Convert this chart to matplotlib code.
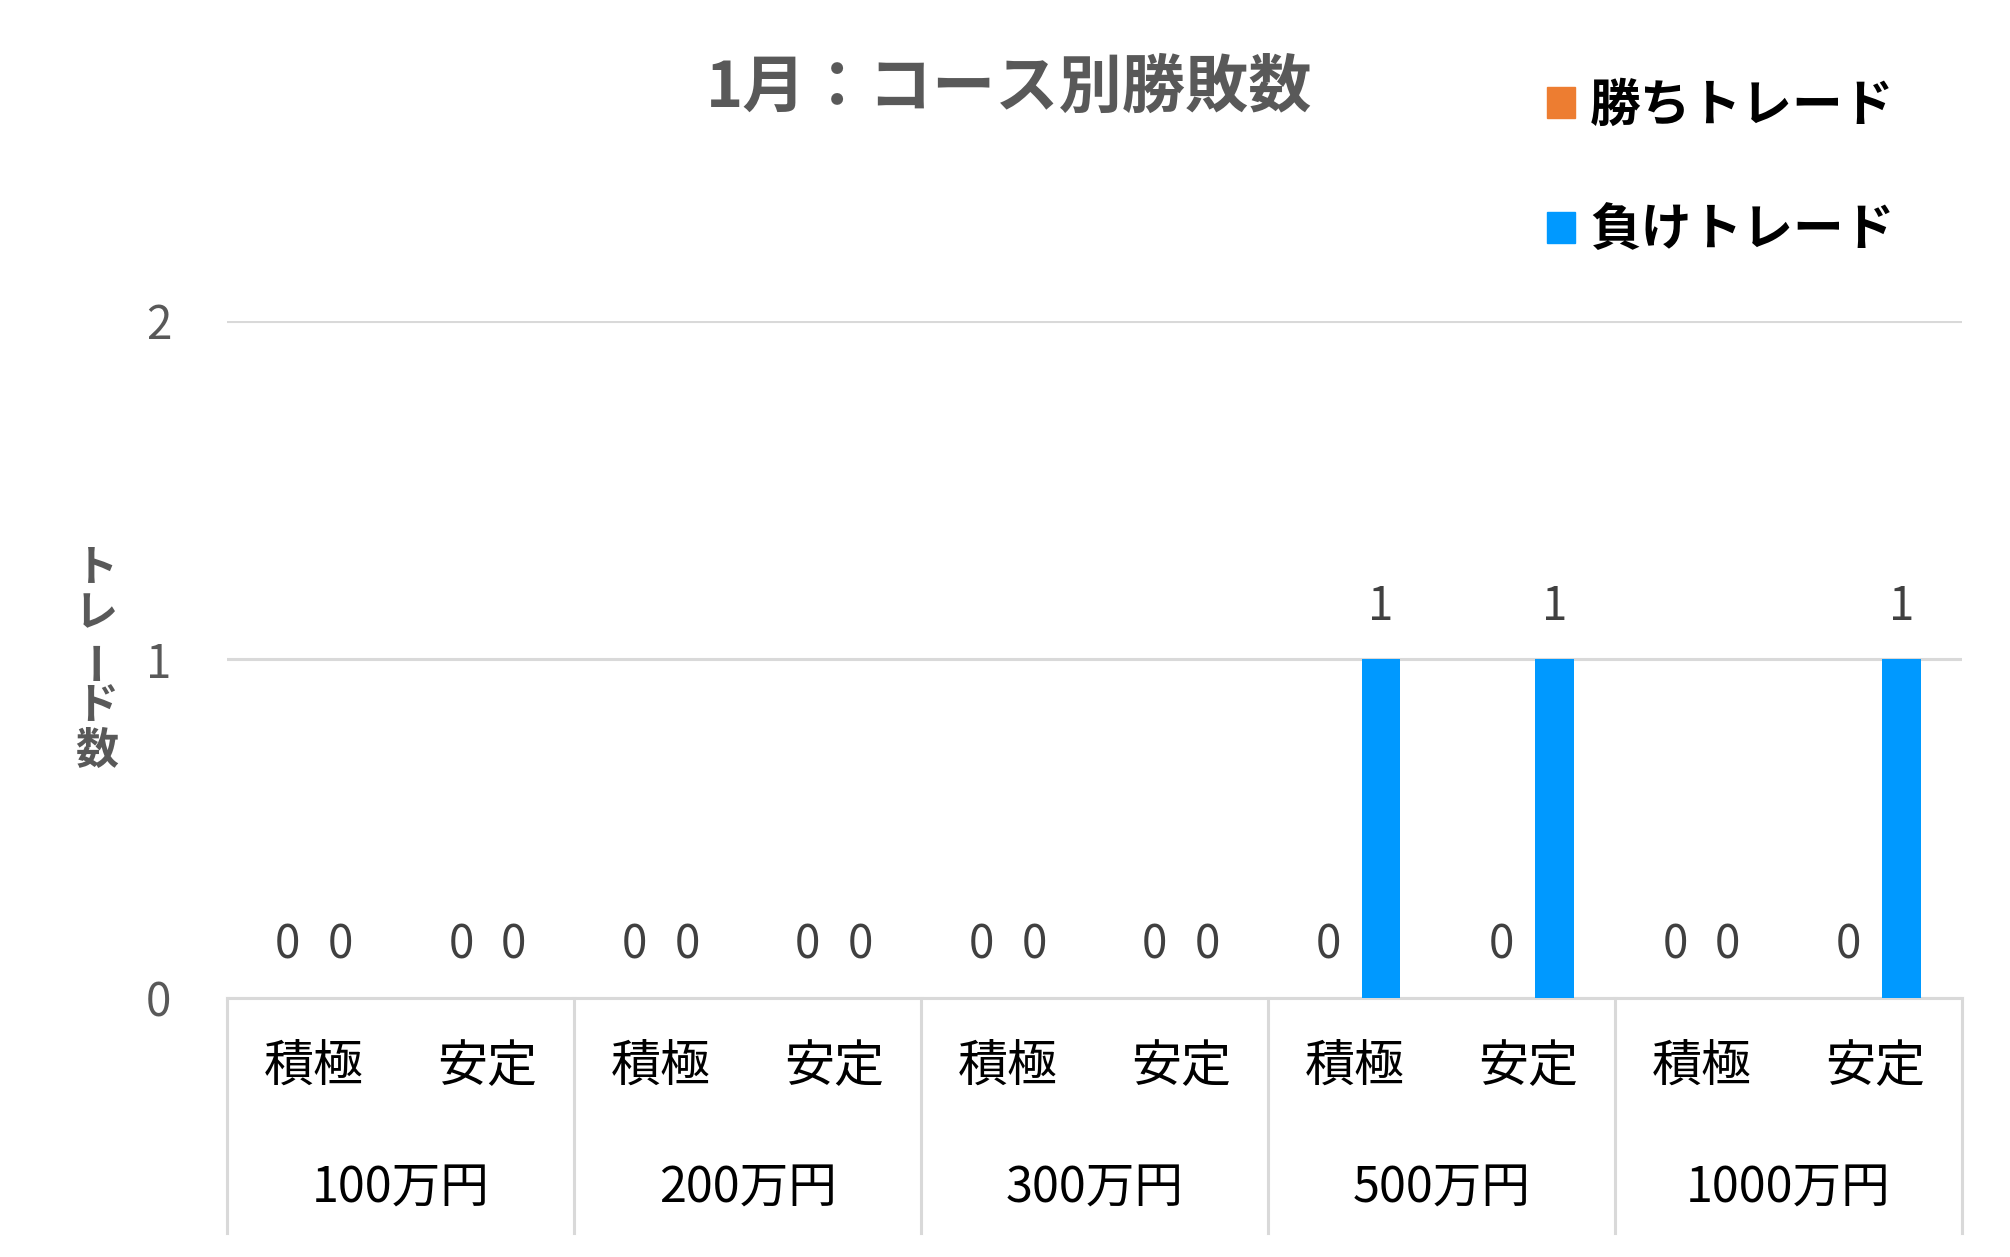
import numpy as np
import matplotlib
matplotlib.use("Agg")
import matplotlib.pyplot as plt
from matplotlib.patches import Patch
from matplotlib.transforms import blended_transform_factory

plt.rcParams['font.family'] = ['Noto Sans CJK JP', 'DejaVu Sans']

groups = ['100万円', '200万円', '300万円', '500万円', '1000万円']
courses = ['積極', '安定']
wins = [0, 0, 0, 0, 0, 0, 0, 0, 0, 0]
losses = [0, 0, 0, 0, 0, 0, 1, 1, 0, 1]

win_color = '#ED7D31'
loss_color = '#0099FF'
grid_color = '#D9D9D9'
gray = '#595959'
label_gray = '#404040'

fig = plt.figure(figsize=(20.1, 12.57), dpi=100)
ax = fig.add_axes([0.113, 0.206, 0.863, 0.539])

x = np.arange(len(wins))
off = 0.152
w = 0.222
ax.bar(x - off, wins, w, color=win_color, zorder=3)
ax.bar(x + off, losses, w, color=loss_color, zorder=3)

for xi, v in zip(x - off, wins):
    ax.annotate(str(v), (xi, v), xytext=(0, 38), textcoords='offset points',
                ha='center', va='center', fontsize=33, color=label_gray)
for xi, v in zip(x + off, losses):
    ax.annotate(str(v), (xi, v), xytext=(0, 38), textcoords='offset points',
                ha='center', va='center', fontsize=33, color=label_gray)

ax.set_xlim(-0.5, len(wins) - 0.5)
ax.set_ylim(0, 2)
ax.set_yticks([0, 1, 2])
ax.set_yticklabels(['0', '1', '2'])
ax.tick_params(axis='y', length=0, pad=40, labelsize=33, labelcolor=gray)
ax.set_xticks([])
for s in ['top', 'right', 'left']:
    ax.spines[s].set_visible(False)
ax.spines['bottom'].set_color(grid_color)
ax.spines['bottom'].set_linewidth(2.2)
ax.yaxis.grid(True, color=grid_color, linewidth=2.2, zorder=0)
ax.set_axisbelow(True)

# multi-level category axis
trans = blended_transform_factory(ax.transData, ax.transAxes)
for b in np.arange(-0.5, len(wins), 2):
    ax.plot([b, b], [0, -0.347], transform=trans, color=grid_color,
            linewidth=2.2, clip_on=False)
for i, xi in enumerate(x):
    ax.text(xi, -0.102, courses[i % 2], transform=trans, ha='center', va='center',
            fontsize=36, color='black')
for g, name in enumerate(groups):
    ax.text(2 * g + 0.5, -0.281, name, transform=trans, ha='center', va='center',
            fontsize=35, color='black')

# y axis label, stacked characters
ylab = ['ト', 'レ', 'ー', 'ド', '数']
for i, ch in enumerate(ylab):
    rot = 90 if ch == 'ー' else 0
    fig.text(0.048, 1 - (567 + i * 46) / 1257, ch, ha='center', va='center',
             fontsize=31, fontweight='bold', color=gray, rotation=rot)

fig.text(0.502, 0.930, '1月：コース別勝敗数', ha='center', va='center',
         fontsize=45.5, fontweight='bold', color=gray)

handles = [Patch(color=win_color), Patch(color=loss_color)]
fig.legend(handles, ['勝ちトレード', '負けトレード'], loc='upper left',
           bbox_to_anchor=(0.757, 0.956), frameon=False, borderpad=0,
           handlelength=0.55, handleheight=0.55, handletextpad=0.3,
           labelspacing=1.45, prop={'size': 36.5, 'weight': 'bold'})

fig.savefig('out.png', dpi=100)
